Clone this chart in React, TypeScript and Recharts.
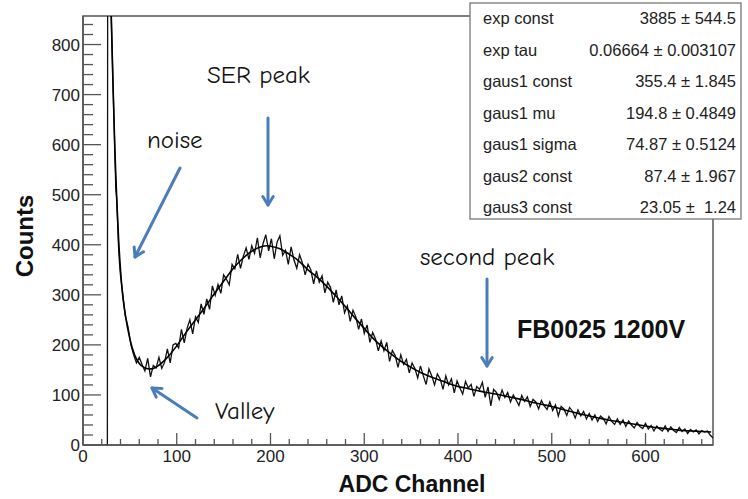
import { LineChart, Line, XAxis, YAxis, ReferenceArea } from "recharts";

// histogram (ADC channel -> counts)
const histChannels = [
  24, 26, 27, 28, 29, 30, 31, 32, 33, 34, 35, 36, 37, 38, 39, 40,
  42, 45, 48, 51, 54, 57, 60, 63, 66, 69, 72, 75, 78, 81, 84, 87, 90, 93, 96, 99,
  102, 105, 108, 111, 114, 117, 120, 123, 126, 129, 132, 135, 138, 141, 144, 147,
  150, 153, 156, 159, 162, 165, 168, 171, 174, 177, 180, 183, 186, 189, 192, 195,
  198, 201, 204, 207, 210, 213, 216, 219, 222, 225, 228, 231, 234, 237, 240, 243,
  246, 249, 252, 255, 258, 261, 264, 267, 270, 273, 276, 279, 282, 285, 288, 291,
  294, 297, 300, 303, 306, 309, 312, 315, 318, 321, 324, 327, 330, 333, 336, 339,
  342, 345, 348, 351, 354, 357, 360, 363, 366, 369, 372, 375, 378, 381, 384, 387,
  390, 393, 396, 399, 402, 405, 408, 411, 414, 417, 420, 423, 426, 429, 432, 435,
  438, 441, 444, 447, 450, 453, 456, 459, 462, 465, 468, 471, 474, 477, 480, 483,
  486, 489, 492, 495, 498, 501, 504, 507, 510, 513, 516, 519, 522, 525, 528, 531,
  534, 537, 540, 543, 546, 549, 552, 555, 558, 561, 564, 567, 570, 573, 576, 579,
  582, 585, 588, 591, 594, 597, 600, 603, 606, 609, 612, 615, 618, 621, 624, 627,
  630, 633, 636, 639, 642, 645, 648, 651, 654, 657, 660, 663, 666, 669, 672,
];
const histCounts = [
  0, 0, 3000, 2000, 1200, 862, 792, 722, 652, 582, 512, 492, 440, 392, 362, 338,
  308, 259, 236, 201, 180, 164, 175, 161, 148, 173, 136, 159, 154, 175, 153, 165, 192, 164, 200, 203,
  194, 231, 204, 233, 250, 222, 256, 245, 282, 261, 292, 271, 318, 299, 321, 303,
  340, 331, 320, 361, 352, 381, 353, 377, 394, 371, 398, 383, 414, 374, 402, 420,
  388, 412, 372, 405, 418, 379, 389, 361, 396, 370, 353, 380, 364, 340, 361, 350,
  322, 348, 325, 338, 304, 325, 315, 285, 310, 280, 298, 264, 278, 247, 269, 256,
  231, 252, 223, 240, 205, 225, 212, 188, 208, 188, 205, 167, 189, 179, 155, 180,
  161, 171, 144, 164, 153, 134, 158, 138, 121, 152, 138, 120, 142, 132, 111, 138,
  120, 132, 104, 128, 114, 102, 127, 114, 121, 97, 117, 111, 125, 95, 116, 78,
  111, 105, 91, 110, 95, 105, 86, 100, 90, 79, 99, 87, 96, 77, 91, 86,
  72, 89, 78, 71, 86, 69, 80, 58, 77, 72, 59, 75, 68, 54, 70, 58,
  67, 52, 63, 50, 60, 47, 58, 53, 42, 57, 47, 41, 52, 41, 50, 37,
  48, 40, 34, 45, 37, 33, 43, 32, 39, 28, 38, 32, 28, 38, 27, 36,
  29, 25, 35, 27, 32, 23, 31, 26, 30, 22, 29, 26, 28, 20, 14,
];

// fitted curve
const fitChannels = [
  30, 32, 34, 36, 38, 40, 42, 45, 50, 55, 60, 65, 70, 75, 80, 90, 100, 110, 120,
  130, 140, 150, 160, 170, 180, 190, 196, 200, 210, 220, 230, 240, 250, 260, 270,
  280, 290, 300, 310, 320, 330, 340, 350, 360, 370, 380, 390, 400, 410, 420, 430,
  440, 450, 460, 470, 480, 490, 500, 510, 520, 530, 540, 550, 560, 570, 580, 590,
  600, 610, 620, 630, 640, 650, 660, 670,
];
const fitCounts = [
  870, 720, 590, 490, 410, 350, 305, 262, 212, 180, 163, 155, 152, 153, 158, 175, 198, 225, 250,
  275, 302, 327, 352, 372, 387, 396, 398, 397, 392, 381, 368, 350, 335, 317, 297,
  276, 254, 233, 212, 195, 180, 166, 155, 145, 137, 130, 123, 117, 113, 109, 105,
  102, 98, 94, 90, 85, 81, 77, 72, 67, 62, 58, 54, 50, 47, 44, 41,
  38, 35, 33, 31, 29, 28, 27, 26,
];

const xTicks = [
  0, 20, 40, 60, 80, 100, 120, 140, 160, 180, 200, 220, 240, 260, 280, 300, 320,
  340, 360, 380, 400, 420, 440, 460, 480, 500, 520, 540, 560, 580, 600, 620, 640, 660,
];
const yTicks = [
  0, 20, 40, 60, 80, 100, 120, 140, 160, 180, 200, 220, 240, 260, 280, 300, 320,
  340, 360, 380, 400, 420, 440, 460, 480, 500, 520, 540, 560, 580, 600, 620, 640,
  660, 680, 700, 720, 740, 760, 780, 800, 820, 840,
];

const fitParams = [
  "exp const", "exp tau", "gaus1 const", "gaus1 mu", "gaus1 sigma", "gaus2 const", "gaus3 const",
];
const fitValues = [
  "3885 ± 544.5", "0.06664 ± 0.003107", "355.4 ± 1.845", "194.8 ± 0.4849",
  "74.87 ± 0.5124", "87.4 ± 1.967", "23.05 ±  1.24",
];

const histData = histChannels.map((x, i) => ({ x, y: histCounts[i] }));
const fitData = fitChannels.map((x, i) => ({ x, y: fitCounts[i] }));

const AXIS = "#555";
const TXT = "#222";
const SANS = "'Liberation Sans', Arial, Helvetica, sans-serif";
const HAND = "'Comic Sans MS', 'Comic Neue', 'DejaVu Sans', sans-serif";
const BLUE = "#4a7ebb";

const YTick = (props: any) => {
  const { x, y, payload } = props;
  const major = payload.value % 100 === 0;
  return (
    <g>
      <line x1={x} x2={x + (major ? 18 : 10)} y1={y} y2={y} stroke={AXIS} strokeWidth={1.3} />
      {major && (
        <text x={x - 3} y={y} dy={6} textAnchor="end" fontSize={17} fontFamily={SANS} fill={TXT}>
          {payload.value}
        </text>
      )}
    </g>
  );
};

const XTick = (props: any) => {
  const { x, y, payload } = props;
  const major = payload.value % 100 === 0;
  return (
    <g>
      <line x1={x} x2={x} y1={y} y2={y - (major ? 12 : 6)} stroke={AXIS} strokeWidth={1.3} />
      {major && (
        <text x={x} y={y + 17} textAnchor="middle" fontSize={17} fontFamily={SANS} fill={TXT}>
          {payload.value}
        </text>
      )}
    </g>
  );
};

function Arrow({ x1, y1, x2, y2 }: { x1: number; y1: number; x2: number; y2: number }) {
  const a = Math.atan2(y2 - y1, x2 - x1);
  const h = 10;
  const w = 0.55;
  const p1 = [x2 - h * Math.cos(a - w), y2 - h * Math.sin(a - w)];
  const p2 = [x2 - h * Math.cos(a + w), y2 - h * Math.sin(a + w)];
  return (
    <g stroke={BLUE} strokeWidth={3} fill="none" strokeLinecap="round" strokeLinejoin="round">
      <line x1={x1} y1={y1} x2={x2} y2={y2} />
      <polyline points={`${p1[0]},${p1[1]} ${x2},${y2} ${p2[0]},${p2[1]}`} />
    </g>
  );
}

export default function App() {
  return (
    <div style={{ position: "absolute", left: 0, top: 0, width: 748, height: 499, background: "#fff" }}>
      <LineChart width={748} height={499} margin={{ top: 16, right: 35, bottom: 0, left: 0 }}>
        <XAxis
          type="number"
          dataKey="x"
          domain={[0, 672]}
          allowDataOverflow
          ticks={xTicks}
          interval={0}
          height={54}
          tickSize={0}
          tickMargin={0}
          tickLine={false}
          tick={<XTick />}
          axisLine={{ stroke: AXIS, strokeWidth: 1.5 }}
        />
        <YAxis
          type="number"
          dataKey="y"
          domain={[0, 857]}
          allowDataOverflow
          ticks={yTicks}
          interval={0}
          width={83}
          tickSize={0}
          tickMargin={0}
          tickLine={false}
          tick={<YTick />}
          axisLine={{ stroke: AXIS, strokeWidth: 1.5 }}
        />
        <ReferenceArea x1={0} x2={672} y1={0} y2={857} fill="none" stroke={AXIS} strokeWidth={1.5} />
        <Line
          data={histData}
          dataKey="y"
          type="linear"
          stroke="#111"
          strokeWidth={1.3}
          dot={false}
          isAnimationActive={false}
        />
        <Line
          data={fitData}
          dataKey="y"
          type="monotone"
          stroke="#000"
          strokeWidth={1.6}
          dot={false}
          isAnimationActive={false}
        />
      </LineChart>
      <svg
        width={748}
        height={499}
        style={{ position: "absolute", left: 0, top: 0, pointerEvents: "none" }}
      >
        <text x={33} y={236} transform="rotate(-90 33 236)" textAnchor="middle" fontSize={24} fontWeight="bold" fontFamily={SANS} fill="#111">
          Counts
        </text>
        <text x={412} y={492} textAnchor="middle" fontSize={23} fontWeight="bold" fontFamily={SANS} fill="#111">
          ADC Channel
        </text>

        <text x={147} y={148} fontSize={25} fontFamily={HAND} fill="#111">noise</text>
        <text x={207} y={83} fontSize={25} fontFamily={HAND} fill="#111">SER peak</text>
        <text x={420} y={265} fontSize={25} fontFamily={HAND} fill="#111">second peak</text>
        <text x={215} y={419} fontSize={25} fontFamily={HAND} fill="#111">Valley</text>
        <text x={517} y={338} fontSize={25} fontWeight="bold" fontFamily={SANS} fill="#111">FB0025 1200V</text>

        <Arrow x1={180} y1={168} x2={135} y2={257} />
        <Arrow x1={268} y1={118} x2={268} y2={205} />
        <Arrow x1={487} y1={279} x2={487} y2={366} />
        <Arrow x1={197} y1={418} x2={152} y2={388} />

        <rect x={470} y={3} width={271} height={216} fill="#fff" stroke="#777" strokeWidth={1.3} />
        {fitParams.map((p, i) => (
          <g key={p} fontFamily={SANS} fontSize={16.5} fill={TXT}>
            <text x={483} y={24 + i * 31.5}>{p}</text>
            <text x={736} y={24 + i * 31.5} textAnchor="end" style={{ whiteSpace: "pre" }}>
              {fitValues[i]}
            </text>
          </g>
        ))}
      </svg>
    </div>
  );
}
